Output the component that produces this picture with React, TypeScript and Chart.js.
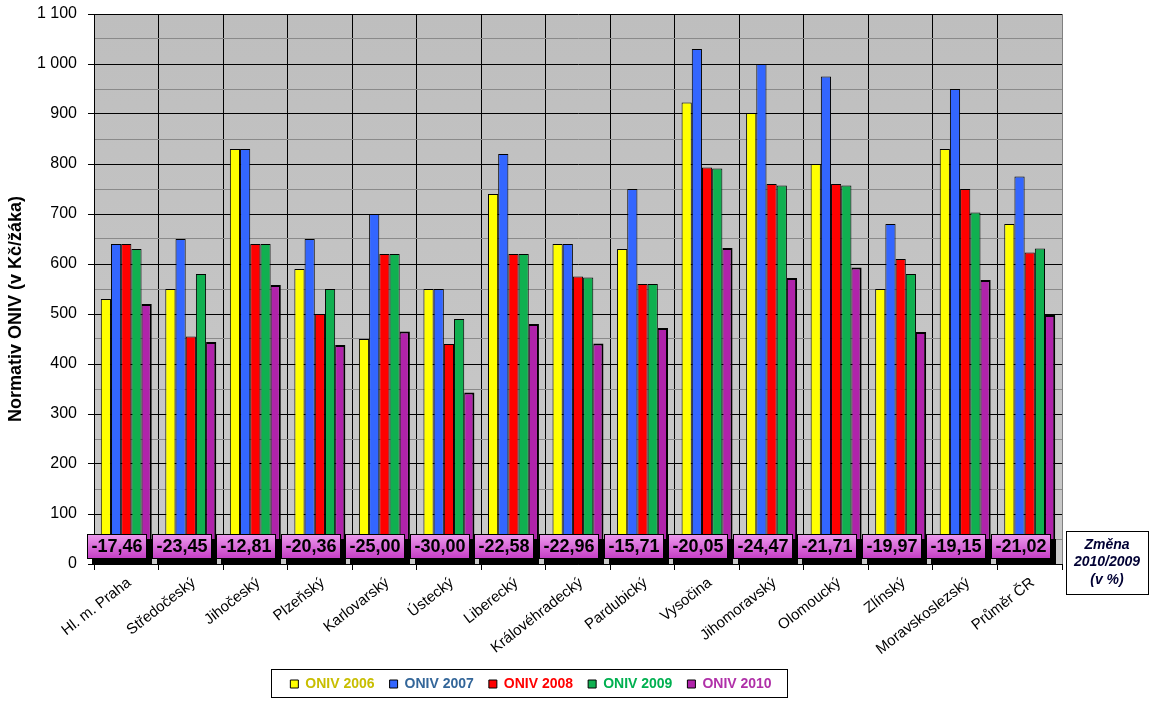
import React, { useEffect, useRef } from 'react';
import { Chart, registerables } from 'chart.js';

Chart.register(...registerables);

const FONT = 'Arial, "Liberation Sans", "DejaVu Sans", sans-serif';

const categories = [
  'Hl. m. Praha', 'Středočeský', 'Jihočeský', 'Plzeňský', 'Karlovarský', 'Ústecký', 'Liberecký',
  'Královéhradecký', 'Pardubický', 'Vysočina', 'Jihomoravský', 'Olomoucký', 'Zlínský',
  'Moravskoslezský', 'Průměr ČR',
];

const oniv2006 = [530, 550, 830, 590, 450, 550, 740, 640, 630, 923, 902, 800, 550, 830, 680];
const oniv2007 = [640, 650, 830, 650, 700, 550, 820, 640, 750, 1030, 1000, 975, 680, 950, 775];
const oniv2008 = [640, 455, 640, 500, 620, 440, 620, 575, 560, 793, 760, 760, 610, 750, 623];
const oniv2009 = [630, 580, 640, 550, 620, 490, 620, 573, 560, 791, 757, 757, 580, 703, 631];
const oniv2010 = [520, 444, 558, 438, 465, 343, 480, 441, 472, 632, 572, 593, 464, 568, 498];

const change2010vs2009 = [
  -17.46, -23.45, -12.81, -20.36, -25.0, -30.0, -22.58, -22.96, -15.71, -20.05, -24.47, -21.71,
  -19.97, -19.15, -21.02,
];

const seriesLabels = ['ONIV 2006', 'ONIV 2007', 'ONIV 2008', 'ONIV 2009', 'ONIV 2010'];
const seriesData = [oniv2006, oniv2007, oniv2008, oniv2009, oniv2010];
const barColors = ['#FFFF00', '#3366FF', '#FF0000', '#10B050', '#B023AA'];
const legendTextColors = ['#C8BE00', '#336699', '#FF0000', '#00B050', '#B030A8'];

const yTitle = 'Normativ ONIV (v Kč/žáka)';
const changeTitle = ['Změna', '2010/2009', '(v %)'];

function formatThousands(v: number): string {
  if (v >= 1000) {
    const th = Math.floor(v / 1000);
    const rest = String(v % 1000).padStart(3, '0');
    return `${th} ${rest}`;
  }
  return String(v);
}

export default function App() {
  const ref = useRef<HTMLCanvasElement>(null);

  useEffect(() => {
    document.body.style.margin = '0';
    const canvas = ref.current;
    if (!canvas) return;

    const bgPlugin = {
      id: 'plotBg',
      beforeDraw(chart: any) {
        const { ctx, chartArea: a } = chart;
        ctx.save();
        const g = ctx.createLinearGradient(0, a.top, 0, a.bottom);
        g.addColorStop(0, '#BEBEBE');
        g.addColorStop(1, '#CACACA');
        ctx.fillStyle = g;
        ctx.fillRect(a.left, a.top, a.right - a.left, a.bottom - a.top);
        ctx.restore();
      },
    };

    const legendFix = {
      id: 'legendFix',
      afterInit(chart: any) {
        const lg = chart.legend;
        if (lg) {
          const orig = lg.fit.bind(lg);
          lg.fit = function () {
            orig();
            this.height = 41;
          };
        }
      },
      afterDraw(chart: any) {
        const lg = chart.legend;
        if (!lg || !lg.legendHitBoxes || !lg.legendHitBoxes.length) return;
        const hb = lg.legendHitBoxes;
        let minX = Infinity, maxX = -Infinity;
        hb.forEach((h: any) => {
          minX = Math.min(minX, h.left);
          maxX = Math.max(maxX, h.left + h.width);
        });
        const { ctx } = chart;
        ctx.save();
        ctx.strokeStyle = '#000';
        ctx.lineWidth = 1;
        ctx.strokeRect(Math.round(minX - 19) + 0.5, 669.5, Math.round(maxX - minX + 35), 28);
        ctx.restore();
      },
    };

    const changePlugin = {
      id: 'changeBoxes',
      afterDatasetsDraw(chart: any) {
        const { ctx, chartArea: a } = chart;
        const xs = chart.scales.x;
        const w = 60;
        const h = 25;
        const top = a.bottom - 30;
        ctx.save();
        change2010vs2009.forEach((v, i) => {
          const cx = xs.getPixelForValue(i) - 9;
          const left = Math.round(cx - w / 2);
          ctx.fillStyle = '#000';
          ctx.fillRect(left + 5, top + 5, w, h);
          const g = ctx.createLinearGradient(0, top, 0, top + h);
          g.addColorStop(0, '#EE9CEE');
          g.addColorStop(1, '#C43CC4');
          ctx.fillStyle = g;
          ctx.fillRect(left, top, w, h);
          ctx.strokeStyle = '#000';
          ctx.lineWidth = 1;
          ctx.strokeRect(left + 0.5, top + 0.5, w - 1, h - 1);
          ctx.fillStyle = '#000';
          ctx.font = `bold 18px ${FONT}`;
          ctx.textAlign = 'center';
          ctx.textBaseline = 'middle';
          ctx.fillText(v.toFixed(2).replace('.', ','), left + w / 2, top + h / 2 + 1);
        });
        ctx.restore();
      },
      afterDraw(chart: any) {
        const { ctx } = chart;
        const bx = 1066, by = 531, bw = 82, bh = 63;
        ctx.save();
        ctx.fillStyle = '#FFFFFF';
        ctx.fillRect(bx, by, bw, bh);
        ctx.strokeStyle = '#000';
        ctx.lineWidth = 1;
        ctx.strokeRect(bx + 0.5, by + 0.5, bw, bh);
        ctx.fillStyle = '#000033';
        ctx.font = `italic bold 14px ${FONT}`;
        ctx.textAlign = 'center';
        ctx.textBaseline = 'middle';
        const cx = bx + bw / 2;
        ctx.fillText(changeTitle[0], cx, 545);
        ctx.fillText(changeTitle[1], cx, 562);
        ctx.fillText(changeTitle[2], cx, 580);
        ctx.restore();
      },
    };

    const chart = new Chart(canvas, {
      type: 'bar',
      data: {
        labels: categories,
        datasets: seriesData.map((d, i) => ({
          label: seriesLabels[i],
          data: d,
          backgroundColor: barColors[i],
          borderColor: '#000',
          borderWidth: i === 4 ? { top: 2, right: 2, left: 1, bottom: 0 } : { top: 1, right: 1, left: 1, bottom: 0 },
          borderSkipped: false,
          barPercentage: 1,
          categoryPercentage: 0.79,
        })),
      },
      options: {
        animation: false,
        responsive: false,
        devicePixelRatio: 1,
        layout: { padding: { top: 14, right: 88, left: 0, bottom: 0 } },
        plugins: {
          tooltip: { enabled: false },
          legend: {
            position: 'bottom',
            labels: {
              boxWidth: 8,
              boxHeight: 8,
              padding: 15,
              font: { family: FONT, size: 14, weight: 'bold' },
              generateLabels: (ch: any) =>
                ch.data.datasets.map((ds: any, i: number) => ({
                  text: ds.label,
                  fillStyle: barColors[i],
                  strokeStyle: '#000',
                  lineWidth: 1,
                  fontColor: legendTextColors[i],
                  hidden: false,
                  datasetIndex: i,
                })),
            },
          },
        },
        scales: {
          x: {
            offset: true,
            grid: {
              offset: true,
              color: (c: any) => (c.tick ? '#000' : '#808080'),
              tickColor: '#000',
              tickLength: 6,
              lineWidth: 1,
            },
            border: { color: '#000', width: 1 },
            ticks: {
              minRotation: 38,
              maxRotation: 38,
              autoSkip: false,
              padding: 4,
              labelOffset: 3,
              color: '#000',
              font: { family: FONT, size: 15 },
            },
            afterFit: (s: any) => {
              s.height = 98;
            },
          },
          y: {
            min: 0,
            max: 1100,
            ticks: {
              stepSize: 50,
              autoSkip: false,
              padding: 11,
              color: '#000',
              font: { family: FONT, size: 16 },
              callback: (v: any) => (Number(v) % 100 === 0 ? formatThousands(Number(v)) : ''),
            },
            grid: {
              color: (c: any) => (c.tick && c.tick.value % 100 !== 0 ? '#8A8A8A' : '#000'),
              tickColor: (c: any) => (c.tick && c.tick.value % 100 !== 0 ? 'rgba(0,0,0,0)' : '#000'),
              tickLength: 6,
              lineWidth: 1,
            },
            border: { color: '#000', width: 1 },
            title: {
              display: true,
              text: yTitle + '\u00a0'.repeat(8),
              color: '#000',
              font: { family: FONT, size: 18, weight: 'bold' },
              padding: { top: 5, bottom: 0 },
            },
            afterFit: (s: any) => {
              s.width = 94;
              s.paddingTop = 0;
              s.paddingBottom = 0;
            },
          },
        },
      },
      plugins: [bgPlugin, legendFix, changePlugin],
    });

    return () => {
      chart.destroy();
    };
  }, []);

  return (
    <div style={{ width: 1150, height: 703, background: '#fff' }}>
      <canvas ref={ref} width={1150} height={703} style={{ display: 'block' }} />
    </div>
  );
}
